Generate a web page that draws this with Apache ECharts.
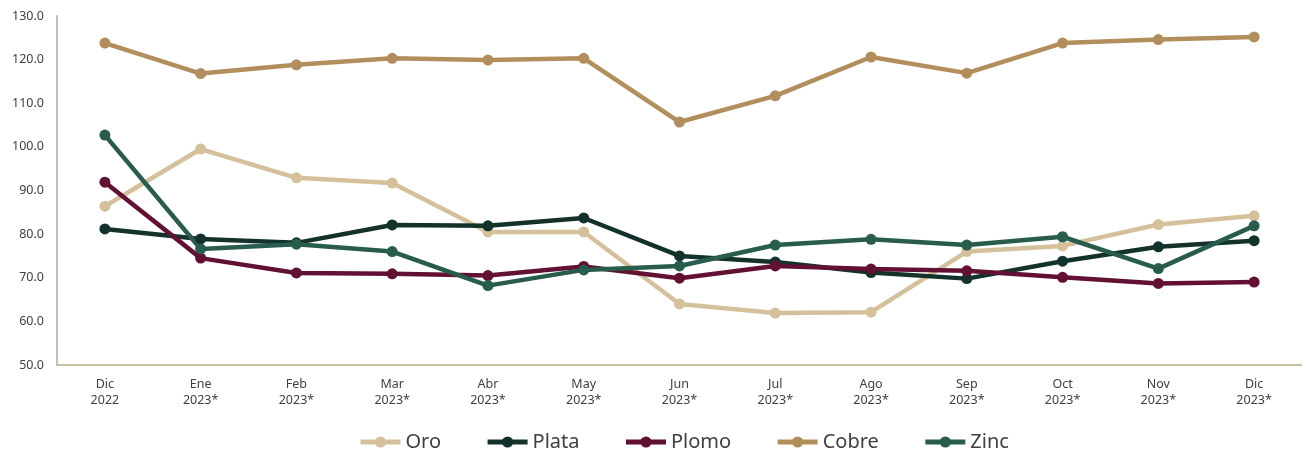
<!DOCTYPE html>
<html><head><meta charset="utf-8">
<script src="https://cdn.jsdelivr.net/npm/echarts@6/dist/echarts.min.js"></script>
<style>html,body{margin:0;padding:0;background:#fff}#c{width:1302px;height:450px}</style>
</head><body><div id="c"></div>
<script>
const categories = ['Dic\n2022','Ene\n2023*','Feb\n2023*','Mar\n2023*','Abr\n2023*','May\n2023*','Jun\n2023*','Jul\n2023*','Ago\n2023*','Sep\n2023*','Oct\n2023*','Nov\n2023*','Dic\n2023*'];
const oro   = [86.4, 99.5, 92.9, 91.7, 80.5, 80.5, 64.0, 61.9, 62.1, 76.0, 77.3, 82.2, 84.2];
const plata = [81.2, 78.9, 78.0, 82.1, 81.9, 83.7, 75.0, 73.6, 71.2, 69.8, 73.8, 77.1, 78.5];
const plomo = [91.9, 74.5, 71.1, 70.9, 70.5, 72.6, 69.9, 72.7, 72.0, 71.6, 70.1, 68.7, 69.0];
const cobre = [123.8, 116.8, 118.8, 120.3, 119.9, 120.3, 105.7, 111.7, 120.6, 116.9, 123.8, 124.6, 125.2];
const zinc  = [102.7, 76.6, 77.7, 76.0, 68.2, 71.8, 72.7, 77.5, 78.8, 77.5, 79.4, 72.1, 81.9];
const seriesNames = ['Oro','Plata','Plomo','Cobre','Zinc'];
const seriesData = [oro, plata, plomo, cobre, zinc];
const colors = ['#d4c19c','#13322b','#621132','#b38e5d','#285c4d'];

const font = 'Noto Sans';
const chart = echarts.init(document.getElementById('c'), null, {renderer:'canvas'});
chart.setOption({
  animation:false,
  color: colors,
  grid:{left:57, right:0, top:16, bottom:85, containLabel:false, outerBoundsMode:'none'},
  legend:{
    top:427, left:353, itemWidth:40, itemHeight:14, itemGap:44,
    lineStyle:{width:5},
    textStyle:{fontFamily:font, fontSize:20, color:'#404040'},
    data: seriesNames
  },
  xAxis:{
    type:'category', data:categories, boundaryGap:true,
    axisLine:{show:true, lineStyle:{color:'#c9c0a3', width:2}},
    axisTick:{show:false},
    axisLabel:{fontFamily:font, fontSize:12.5, color:'#404040', lineHeight:16, margin:11, interval:0}
  },
  yAxis:{
    type:'value', min:50, max:130, interval:10,
    axisLine:{show:true, lineStyle:{color:'#bfbfbf', width:2}},
    axisTick:{show:false},
    splitLine:{show:false},
    axisLabel:{fontFamily:font, fontSize:12.5, color:'#404040', margin:13, formatter:v=>v.toFixed(1)}
  },
  series: seriesNames.map((n,i)=>({
    name:n, type:'line', data:seriesData[i],
    symbol:'circle', symbolSize:11,
    lineStyle:{width:4.5, color:colors[i]},
    itemStyle:{color:colors[i]}
  }))
});
</script></body></html>
